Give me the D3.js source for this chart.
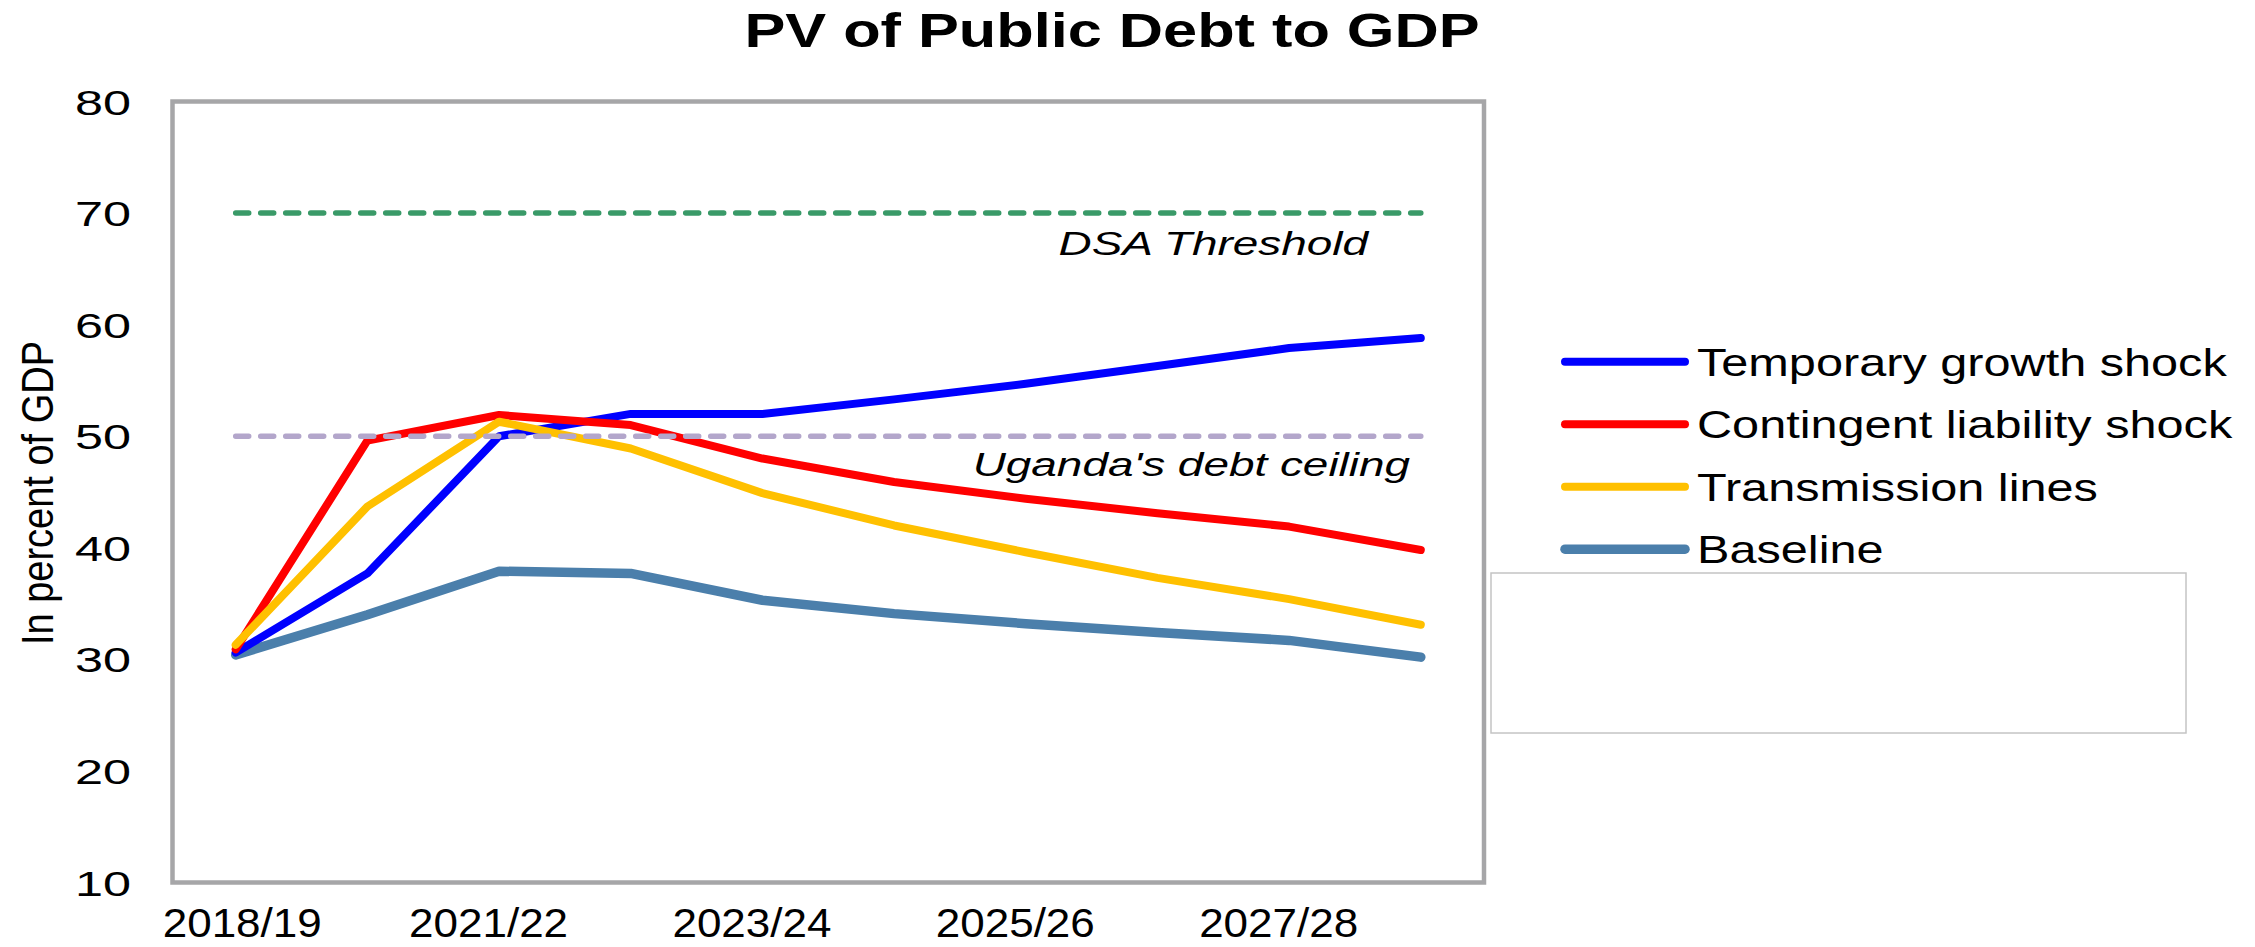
<!DOCTYPE html>
<html>
<head>
<meta charset="utf-8">
<script src="https://cdn.jsdelivr.net/npm/d3@7"></script>
<style>
  html, body { margin: 0; padding: 0; background: #ffffff; }
  svg { display: block; }
  text { font-family: "Liberation Sans", Arial, sans-serif; fill: #000; }
</style>
</head>
<body>
<svg id="chart" width="2255" height="947"></svg>
<script>
// Fiscal years on the category axis (every other one is labelled)
const categories = ["2018/19", "2019/20", "2021/22", "2022/23", "2023/24",
                    "2024/25", "2025/26", "2026/27", "2027/28", "2028/29"];
const xTickLabels = ["2018/19", "2021/22", "2023/24", "2025/26", "2027/28"];
const yTickValues = [10, 20, 30, 40, 50, 60, 70, 80];

// PV of public debt, percent of GDP
const temporaryGrowthShock     = [30.6, 37.7, 50.0, 52.0, 52.0, 53.3, 54.7, 56.3, 57.9, 58.8];
const contingentLiabilityShock = [30.9, 49.6, 51.9, 51.0, 48.0, 45.9, 44.4, 43.1, 41.9, 39.8];
const transmissionLines        = [31.3, 43.7, 51.3, 48.9, 44.9, 42.0, 39.6, 37.3, 35.4, 33.1];
const baseline                 = [30.4, 34.0, 37.9, 37.7, 35.3, 34.1, 33.2, 32.4, 31.7, 30.2];

// Reference levels
const dsaThreshold = [70, 70, 70, 70, 70, 70, 70, 70, 70, 70];
const debtCeiling  = [50, 50, 50, 50, 50, 50, 50, 50, 50, 50];

const seriesNames = ["Temporary growth shock", "Contingent liability shock", "Transmission lines", "Baseline"];

const svg = d3.select("#chart");
const plot = { left: 172.5, right: 1484, top: 101.5, bottom: 882.5 };

const x = d3.scalePoint().domain(categories).range([plot.left, plot.right]).padding(0.48);
const y = d3.scaleLinear().domain([10, 80]).range([plot.bottom, plot.top]);

// Text in this chart is drawn wide; sx widens glyphs horizontally.
function stretchedText(parent, tx, ty, sx, str, opts = {}) {
  const g = parent.append("g").attr("transform", `translate(${tx},${ty}) scale(${sx},1)${opts.rotate ? ` rotate(${opts.rotate})` : ""}`);
  return g.append("text")
    .attr("text-anchor", opts.anchor || "start")
    .attr("dy", opts.dy || 0)
    .style("font-size", opts.size + "px")
    .style("font-weight", opts.weight || "normal")
    .style("font-style", opts.style || "normal")
    .text(str);
}

svg.append("rect").attr("width", 2255).attr("height", 947).attr("fill", "#fff");

// Title
stretchedText(svg, 1112, 46.7, 1.29, "PV of Public Debt to GDP", { anchor: "middle", size: 47.5, weight: "bold" });

// Plot frame
svg.append("rect")
  .attr("x", plot.left).attr("y", plot.top)
  .attr("width", plot.right - plot.left).attr("height", plot.bottom - plot.top)
  .attr("fill", "#fff").attr("stroke", "#a6a6a8").attr("stroke-width", 4.5);

// Y axis
const yAxis = d3.axisLeft(y).tickValues(yTickValues).tickSize(0).tickFormat(d3.format("d"));
const yAxisG = svg.append("g").attr("transform", `translate(${plot.left},0)`).call(yAxis);
yAxisG.select(".domain").remove();
const ySx = 1.44;
yAxisG.selectAll(".tick text")
  .attr("x", -41.5 / ySx)
  .attr("dy", "0.36em")
  .attr("transform", `scale(${ySx},1)`)
  .attr("fill", "#000")
  .style("font-size", "35px")
  .style("font-family", "\"Liberation Sans\", Arial, sans-serif");

// X axis
const xSx = 1.10;
const xAxis = d3.axisBottom(x).tickValues(xTickLabels).tickSize(0);
const xAxisG = svg.append("g").attr("transform", `translate(0,${plot.bottom})`).call(xAxis);
xAxisG.select(".domain").remove();
xAxisG.selectAll(".tick text")
  .attr("x", (d, i) => (i === 0 ? 6 : -11) / xSx)
  .attr("y", 54.5)
  .attr("dy", 0)
  .attr("transform", `scale(${xSx},1)`)
  .attr("fill", "#000")
  .style("font-size", "40px")
  .style("font-family", "\"Liberation Sans\", Arial, sans-serif");

// Y axis title
stretchedText(svg, 53, 493, 1.16, "In percent of GDP", { anchor: "middle", size: 38, rotate: -90 });

// Series lines
const line = d3.line().x((d, i) => x(categories[i])).y(d => y(d));
const series = [
  { name: seriesNames[3], values: baseline,                 color: "#4b7fab", width: 9.5 },
  { name: seriesNames[0], values: temporaryGrowthShock,     color: "#0000ff", width: 8 },
  { name: seriesNames[1], values: contingentLiabilityShock, color: "#ff0000", width: 8 },
  { name: seriesNames[2], values: transmissionLines,        color: "#ffc000", width: 8 }
];
svg.append("g").selectAll("path").data(series).join("path")
  .attr("d", d => line(d.values))
  .attr("fill", "none")
  .attr("stroke", d => d.color)
  .attr("stroke-width", d => d.width)
  .attr("stroke-linejoin", "round")
  .attr("stroke-linecap", "round");

// Reference lines
const refs = [
  { values: dsaThreshold, color: "#3a9a68" },
  { values: debtCeiling,  color: "#b3a6cb" }
];
svg.append("g").selectAll("path").data(refs).join("path")
  .attr("d", d => line(d.values))
  .attr("fill", "none")
  .attr("stroke", d => d.color)
  .attr("stroke-width", 5.5)
  .attr("stroke-dasharray", "13,12")
  .attr("stroke-linecap", "round");

stretchedText(svg, 1368, y(dsaThreshold[0]) + 42, 1.35, "DSA Threshold", { anchor: "end", size: 34, style: "italic" });
stretchedText(svg, 1410, y(debtCeiling[0]) + 40, 1.35, "Uganda's debt ceiling", { anchor: "end", size: 34, style: "italic" });

// Legend
const legendOrder = [series[1], series[2], series[3], series[0]];
const legend = svg.append("g");
legendOrder.forEach((s, i) => {
  const ly = 361.7 + i * 62.5;
  legend.append("line")
    .attr("x1", 1565).attr("x2", 1685).attr("y1", ly).attr("y2", ly)
    .attr("stroke", s.color).attr("stroke-width", s.width).attr("stroke-linecap", "round");
  stretchedText(legend, 1697, ly, 1.247, s.name, { size: 39, dy: "0.36em" });
});

// Empty bordered box beneath the legend
svg.append("rect")
  .attr("x", 1491).attr("y", 573).attr("width", 695).attr("height", 160)
  .attr("fill", "#fff").attr("stroke", "#c4c4c4").attr("stroke-width", 1.5);
</script>
</body>
</html>
